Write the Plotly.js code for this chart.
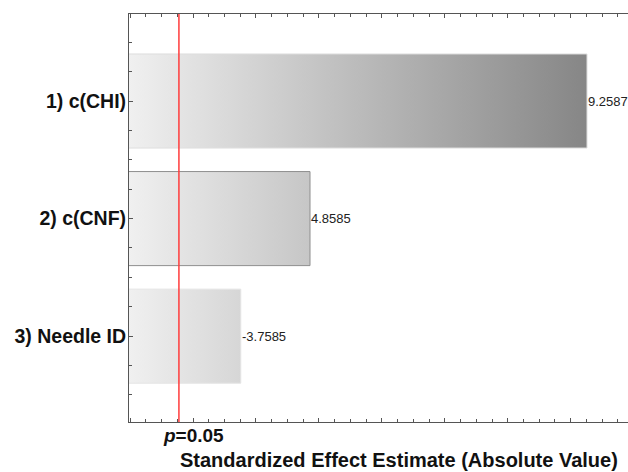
<!DOCTYPE html>
<html>
<head>
<meta charset="utf-8">
<script src="https://cdn.plot.ly/plotly-3.0.1.min.js"></script>
<style>html,body{margin:0;padding:0;background:#fff;}#chart{width:628px;height:472px;}</style>
</head>
<body>
<div id="chart"></div>
<script>
// Data
var factors = ["1) c(CHI)", "2) c(CNF)", "3) Needle ID"];
var effects = [9.2587, 4.8585, -3.7585];
var tCrit = 2.776; // p = 0.05 reference line
var xRange = [1.983, 9.91];

var absEff = effects.map(function (v) { return Math.abs(v); });
var maxEff = Math.max.apply(null, absEff);
var edgeColors = ["#dedede", "#8e8e8e", "#e4e4e4"];
var half = 0.4;

var traces = factors.map(function (name, i) {
  var v = absEff[i];
  return {
    type: "scatter",
    mode: "lines",
    x: [0, v, v, 0, 0],
    y: [i - half, i - half, i + half, i + half, i - half],
    fill: "toself",
    fillgradient: {
      type: "horizontal",
      start: xRange[0],
      stop: maxEff,
      colorscale: [[0, "#f0f0f0"], [1, "#868686"]]
    },
    line: { color: edgeColors[i], width: 1 },
    hoverinfo: "skip",
    showlegend: false
  };
});

var annotations = factors.map(function (name, i) {
  return {
    x: absEff[i], y: i, xref: "x", yref: "y",
    text: String(effects[i]), showarrow: false,
    xanchor: "left", yanchor: "middle", xshift: -1,
    font: { family: "Arial, Liberation Sans, sans-serif", size: 13, color: "#222" }
  };
});
annotations.push({
  x: tCrit, y: 0, xref: "x", yref: "paper",
  text: "<b><i>p</i>=0.05</b>", showarrow: false,
  xanchor: "center", yanchor: "top", xshift: 15, yshift: -1,
  font: { family: "Arial, Liberation Sans, sans-serif", size: 19, color: "#111" }
});
annotations.push({
  x: 0.541, y: 0, xref: "paper", yref: "paper",
  text: "<b>Standardized Effect Estimate (Absolute Value)</b>", showarrow: false,
  xanchor: "center", yanchor: "top", yshift: -25,
  font: { family: "Arial, Liberation Sans, sans-serif", size: 20, color: "#111" }
});

var layout = {
  width: 628, height: 472,
  margin: { l: 129, r: 0, t: 14, b: 50 },
  paper_bgcolor: "#fff", plot_bgcolor: "#fff",
  showlegend: false,
  xaxis: {
    range: xRange, showgrid: false, zeroline: false,
    showline: true, linecolor: "#555", linewidth: 1, mirror: "ticks",
    ticks: "inside", ticklen: 4, tickcolor: "#555", dtick: 1, tick0: 0,
    showticklabels: false,
    minor: { ticks: "inside", ticklen: 3, tickcolor: "#555", dtick: 0.25, tick0: 0 }
  },
  yaxis: {
    range: [2.73, -0.74], showgrid: false, zeroline: false,
    showline: true, linecolor: "#555", linewidth: 1,
    ticks: "inside", ticklen: 4, tickcolor: "#555",
    tickmode: "array", tickvals: [0, 1, 2], ticktext: factors,
    tickfont: { family: "Arial, Liberation Sans, sans-serif", size: 19.5, color: "#111", weight: "bold" },
    ticklabelstandoff: -2,
    minor: { ticks: "inside", ticklen: 3, tickcolor: "#555", dtick: 0.25, tick0: 0 }
  },
  shapes: [{
    type: "line", xref: "x", yref: "paper", x0: tCrit, x1: tCrit, y0: 0, y1: 1,
    line: { color: "#ff3b3b", width: 1.5 }
  }],
  annotations: annotations
};

Plotly.newPlot("chart", traces, layout, { displayModeBar: false, staticPlot: true });
</script>
</body>
</html>
